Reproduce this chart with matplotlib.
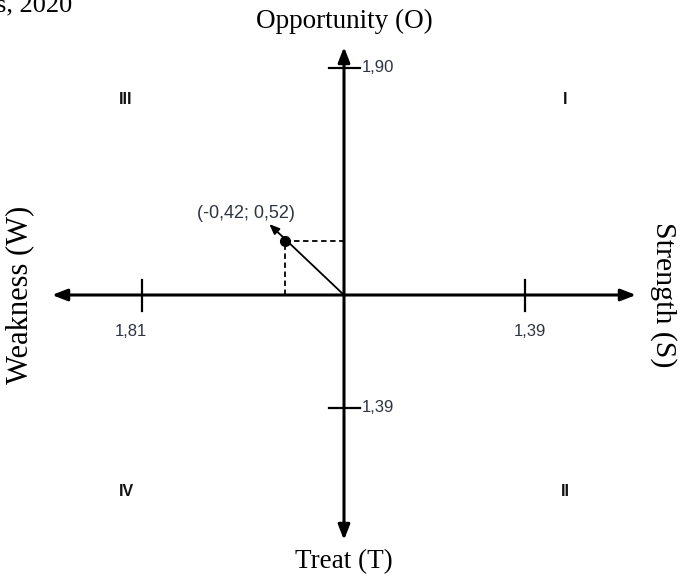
"""
SWOT quadrant diagram: strategy position (-0,42; 0,52).
"""

import matplotlib.pyplot as plt

# --- Data -----------------------------------------------------------------
axis_names = ['Opportunity (O)', 'Treat (T)', 'Weakness (W)', 'Strength (S)']
weakness_score = 1.81
strength_score = 1.39
opportunity_score = 1.90
threat_score = 1.39
position = (-0.42, 0.52)
quadrants = ['I', 'II', 'III', 'IV']


def fmt(v):
    return f'{v:.2f}'.replace('.', ',')


# --- Layout (schematic, not to scale) -------------------------------------
SX, SY = 140.0, 104.0          # px per unit
OX, OY = 344.0, 295.0          # origin in px
W, H = 683, 576


def px(x, y):
    return (x - OX) / SX, (OY - y) / SY


serif = ['Liberation Serif', 'DejaVu Serif']
sans = ['Liberation Sans', 'DejaVu Sans']
txt_col = '#2e3440'

fig = plt.figure(figsize=(W / 100, H / 100), dpi=100)
ax = fig.add_axes([0, 0, 1, 1])
ax.set_xlim(-OX / SX, (W - OX) / SX)
ax.set_ylim(-(H - OY) / SY, OY / SY)
ax.axis('off')

# main axes with arrowheads
arrow_kw = dict(arrowstyle='<|-|>,head_length=0.9,head_width=0.35',
                color='black', lw=2.2, shrinkA=0, shrinkB=0)
ax.annotate('', xy=px(52, OY), xytext=px(636, OY), arrowprops=arrow_kw)
ax.annotate('', xy=px(OX, 47), xytext=px(OX, 540), arrowprops=arrow_kw)

# tick marks
tx = 15.5 / SX
ty = 15.5 / SY
ax.plot([-tx, tx], [px(0, 68)[1]] * 2, color='black', lw=1.6)
ax.plot([-tx, tx], [px(0, 408)[1]] * 2, color='black', lw=1.6)
ax.plot([px(142, 0)[0]] * 2, [-ty, ty], color='black', lw=1.6)
ax.plot([px(525, 0)[0]] * 2, [-ty, ty], color='black', lw=1.6)

# tick labels
ax.text(*px(362, 68), fmt(opportunity_score), ha='left', va='center',
        fontsize=12, family=sans, color=txt_col)
ax.text(*px(362, 408), fmt(threat_score), ha='left', va='center',
        fontsize=12, family=sans, color=txt_col)
ax.text(*px(131, 331), fmt(weakness_score), ha='center', va='center',
        fontsize=12, family=sans, color=txt_col)
ax.text(*px(530, 331), fmt(strength_score), ha='center', va='center',
        fontsize=12, family=sans, color=txt_col)

# position vector
px0, py0 = position
ax.plot([px0, 0], [py0, py0], color='black', lw=1.3, ls=(0, (3, 2)))
ax.plot([px0, px0], [0, py0], color='black', lw=1.3, ls=(0, (3, 2)))
ax.annotate('', xy=(px0 * 1.27, py0 * 1.31), xytext=(0, 0),
            arrowprops=dict(arrowstyle='-|>,head_length=0.6,head_width=0.25',
                            color='black', lw=1.3, shrinkA=0, shrinkB=0))
ax.plot([px0], [py0], 'o', color='black', markersize=7)
ax.text(*px(246, 213), f'({fmt(px0)}; {fmt(py0)})', ha='center', va='center',
        fontsize=13, family=sans, color=txt_col)

# quadrant labels
quad_pos = {'I': (565, 100), 'II': (565, 492), 'III': (126, 100), 'IV': (126, 492)}
for q in quadrants:
    ax.text(*px(*quad_pos[q]), q, ha='center', va='center', fontsize=11.5,
            fontweight='bold', family=sans, color='#111111')

# axis names
ax.text(*px(OX, 21), axis_names[0], ha='center', va='center', fontsize=19.5,
        family=serif)
ax.text(*px(OX, 562), axis_names[1], ha='center', va='center', fontsize=19.5,
        family=serif)
ax.text(*px(20, OY), axis_names[2], ha='center', va='center', fontsize=22,
        family=serif, rotation=90)
ax.text(*px(663, OY), axis_names[3], ha='center', va='center', fontsize=21.5,
        family=serif, rotation=270)

# cut-off caption fragment at top-left
ax.text(*px(-4, 11), 's, 2020', ha='left', va='baseline', fontsize=19,
        family=serif)

fig.savefig('out.png', dpi=100)
plt.close(fig)
